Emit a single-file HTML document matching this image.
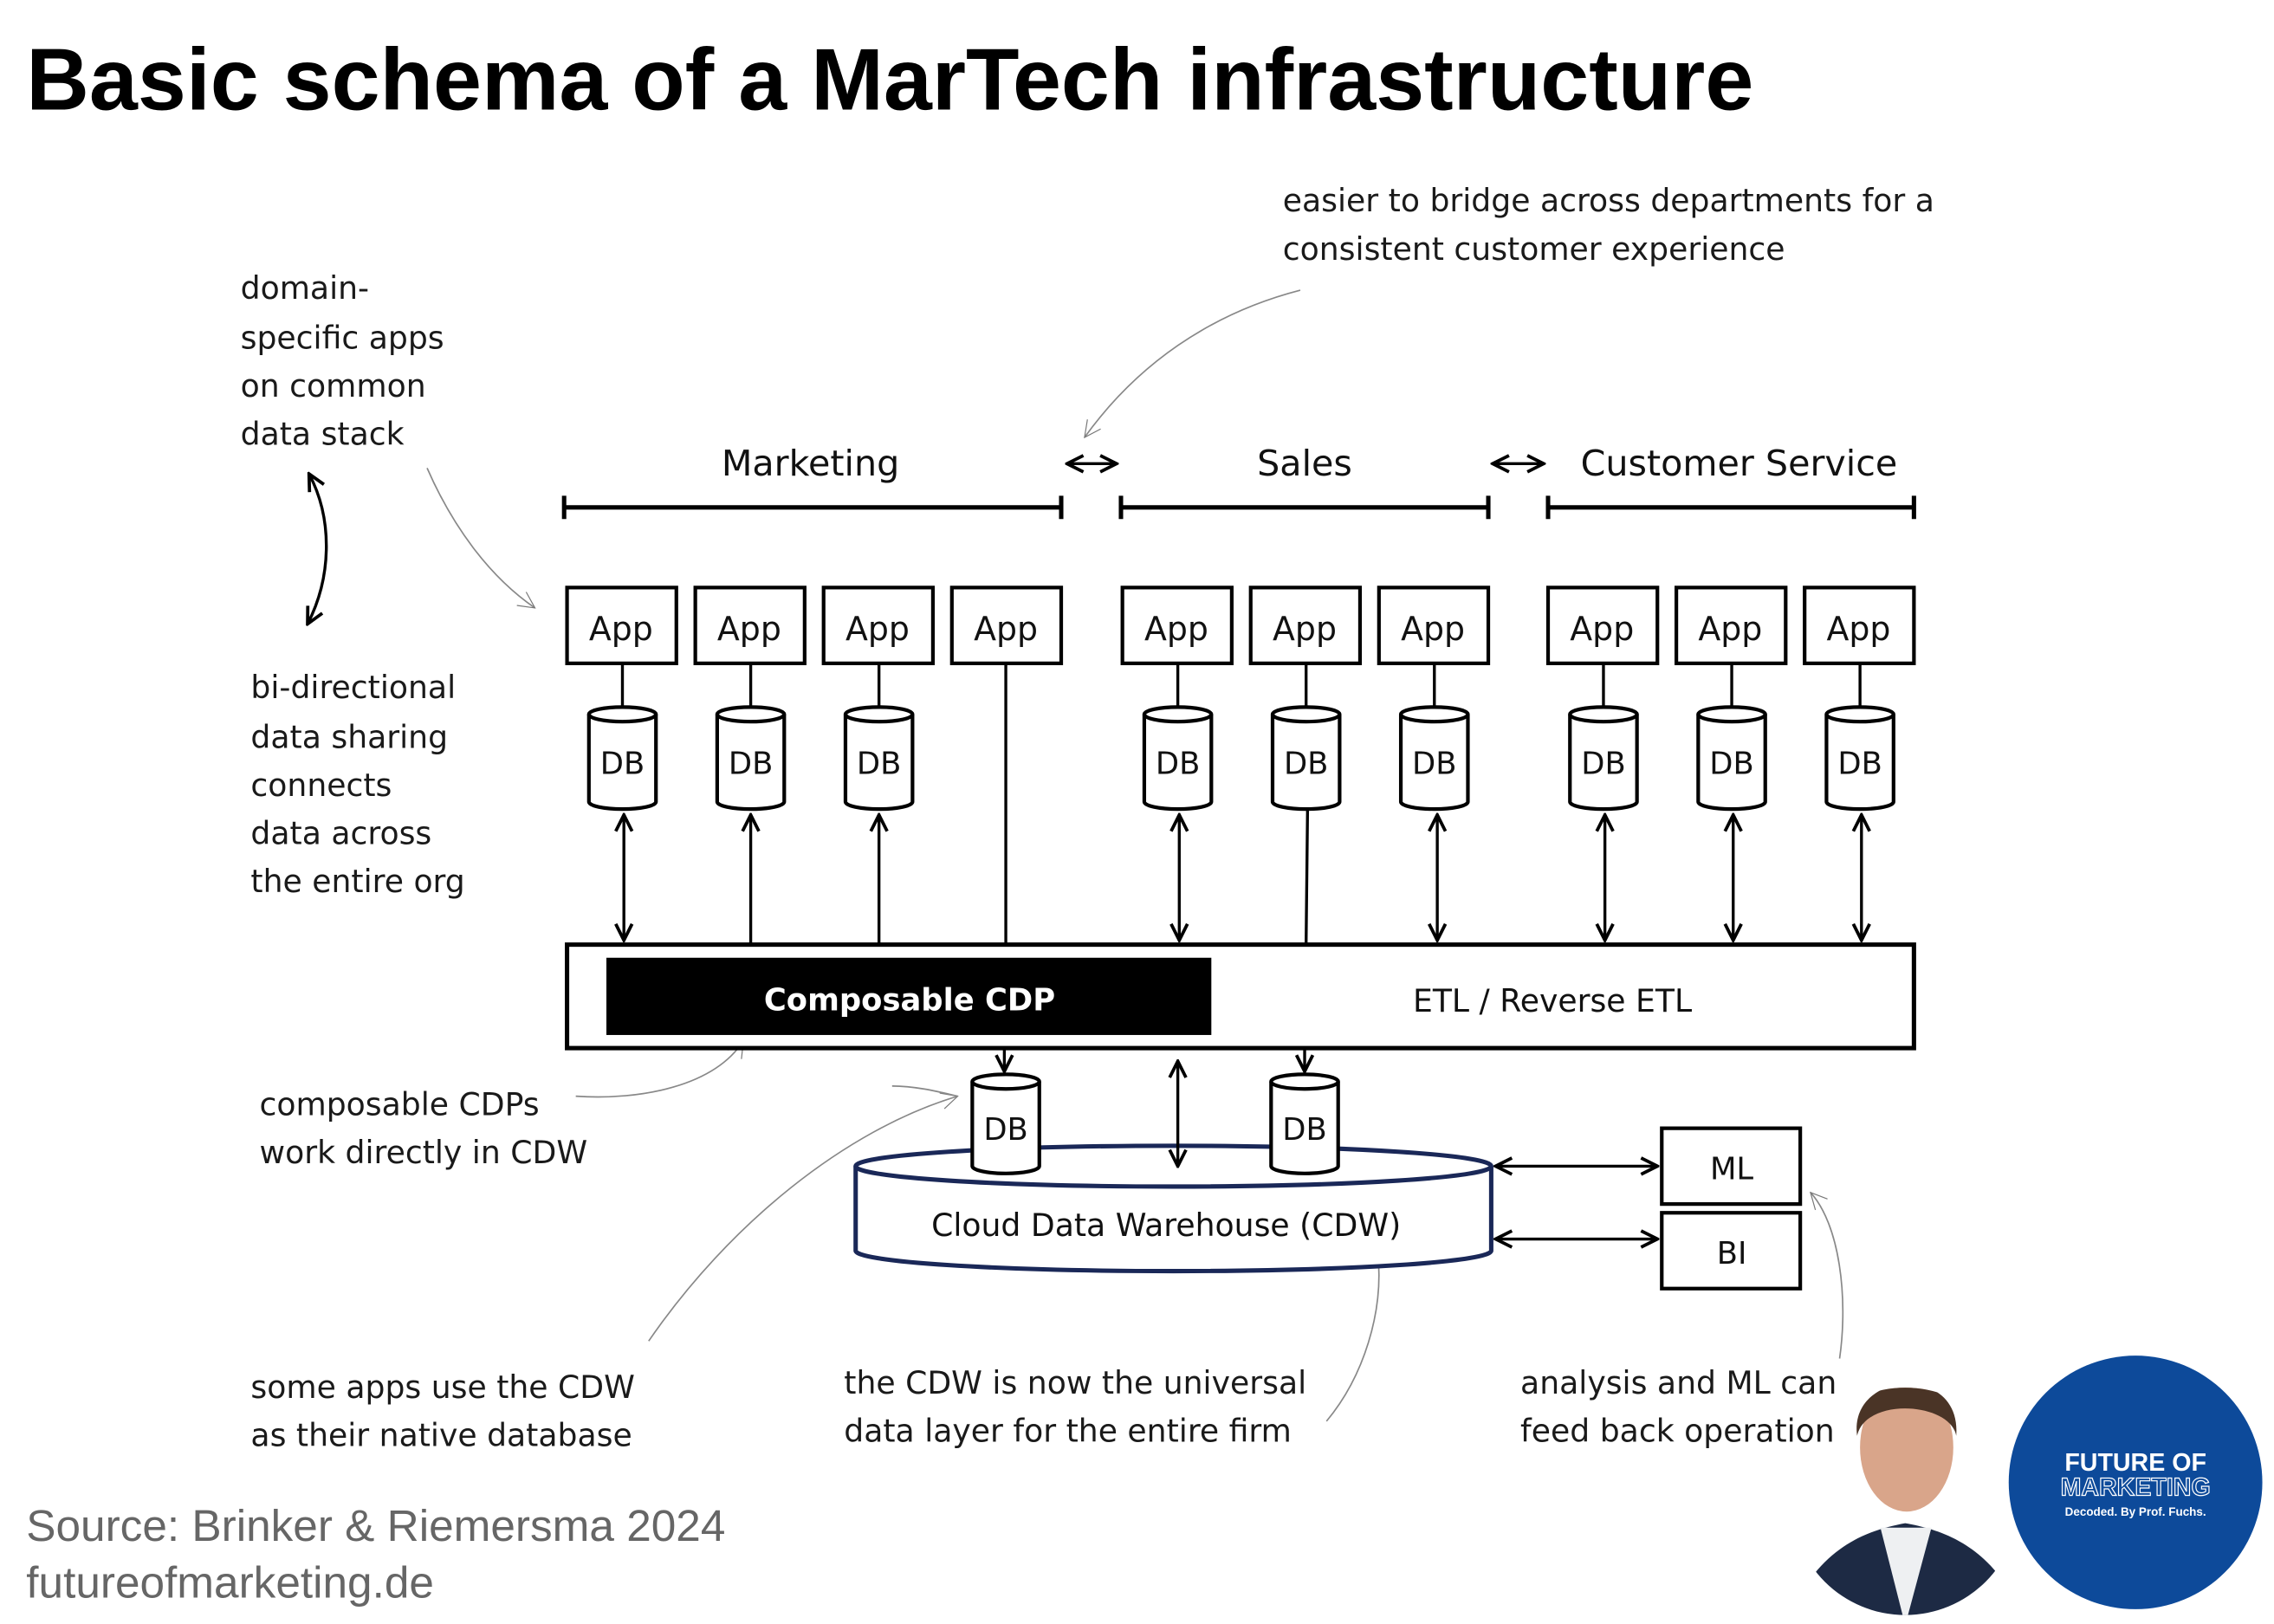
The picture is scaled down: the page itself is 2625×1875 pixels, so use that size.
<!DOCTYPE html>
<html><head><meta charset="utf-8"><style>html,body{margin:0;padding:0;background:#fff}svg{display:block}</style></head>
<body>
<svg width="2625" height="1875" viewBox="0 0 1560 1114" xmlns="http://www.w3.org/2000/svg">
<defs>
<marker id="ah" viewBox="0 0 10 10" refX="9" refY="5" markerWidth="7" markerHeight="7" orient="auto-start-reverse"><path d="M1,1 L9,5 L1,9" fill="none" stroke="#000" stroke-width="1.6"/></marker>
<marker id="gh" viewBox="0 0 10 10" refX="9" refY="5" markerWidth="14" markerHeight="14" orient="auto"><path d="M1,1 L9,5 L1,9" fill="none" stroke="#777" stroke-width="0.5"/></marker>
</defs>
<rect width="1560" height="1114" fill="#fff"/>
<text x="18" y="75" font-family="Liberation Sans, sans-serif" font-weight="bold" font-size="60" textLength="1185" lengthAdjust="spacingAndGlyphs">Basic schema of a MarTech infrastructure</text>

<g font-family="DejaVu Sans, sans-serif" font-size="21.5" fill="#1a1a1a">
<text x="880" y="145">easier to bridge across departments for a</text>
<text x="880" y="178">consistent customer experience</text>
<text x="165" y="205">domain-</text><text x="165" y="239">specific apps</text><text x="165" y="272">on common</text><text x="165" y="305">data stack</text>
<text x="172" y="479">bi-directional</text><text x="172" y="513">data sharing</text><text x="172" y="546">connects</text><text x="172" y="579">data across</text><text x="172" y="612">the entire org</text>
<text x="178" y="765">composable CDPs</text><text x="178" y="798">work directly in CDW</text>
<text x="172" y="959">some apps use the CDW</text><text x="172" y="992">as their native database</text>
<text x="579" y="956">the CDW is now the universal</text><text x="579" y="989">data layer for the entire firm</text>
<text x="1043" y="956">analysis and ML can</text><text x="1043" y="989">feed back operation</text>
</g>
<g font-family="Liberation Sans, sans-serif" font-size="30.5" fill="#666">
<text x="18" y="1057">Source: Brinker &amp; Riemersma 2024</text>
<text x="18" y="1096">futureofmarketing.de</text>
</g>

<g fill="none" stroke="#888" stroke-width="1">
<path d="M892,199 C830,215 780,250 744,300" marker-end="url(#gh)"/>
<path d="M293,321 C310,360 335,395 367,417" marker-end="url(#gh)"/>
<path d="M395,752 C440,755 490,745 510,714" marker-end="url(#gh)"/>
<path d="M445,920 C500,840 580,775 657,752" marker-end="url(#gh)"/>
<path d="M612,745 C630,745 648,750 657,752"/>
<path d="M910,975 C935,945 950,900 945,858" marker-end="url(#gh)"/>
<path d="M1262,932 C1268,890 1262,840 1242,818" marker-end="url(#gh)"/>
</g>
<path d="M212,325 C228,355 228,395 211,428" fill="none" stroke="#000" stroke-width="2" marker-start="url(#ah)" marker-end="url(#ah)"/>

<g font-family="DejaVu Sans, sans-serif" font-size="24.5" fill="#111" text-anchor="middle">
<text x="556" y="326">Marketing</text><text x="895" y="326">Sales</text><text x="1193" y="326">Customer Service</text>
</g>
<g stroke="#000" stroke-width="3" fill="none">
<path d="M387,348H728M387,340V356M728,340V356"/>
<path d="M769,348H1021M769,340V356M1021,340V356"/>
<path d="M1062,348H1313M1062,340V356M1313,340V356"/>
</g>
<g stroke="#000" stroke-width="2" fill="none">
<path d="M732,318H766" marker-start="url(#ah)" marker-end="url(#ah)"/>
<path d="M1024,318H1059" marker-start="url(#ah)" marker-end="url(#ah)"/>
</g>

<g fill="#fff" stroke="#000" stroke-width="2.5">
<rect x="389" y="403" width="75" height="52"/><rect x="477" y="403" width="75" height="52"/><rect x="565" y="403" width="75" height="52"/><rect x="653" y="403" width="75" height="52"/>
<rect x="770" y="403" width="75" height="52"/><rect x="858" y="403" width="75" height="52"/><rect x="946" y="403" width="75" height="52"/>
<rect x="1062" y="403" width="75" height="52"/><rect x="1150" y="403" width="75" height="52"/><rect x="1238" y="403" width="75" height="52"/>
</g>
<g font-family="DejaVu Sans, sans-serif" font-size="22.5" text-anchor="middle" fill="#111">
<text x="426" y="439">App</text><text x="514" y="439">App</text><text x="602" y="439">App</text><text x="690" y="439">App</text>
<text x="807" y="439">App</text><text x="895" y="439">App</text><text x="983" y="439">App</text>
<text x="1099" y="439">App</text><text x="1187" y="439">App</text><text x="1275" y="439">App</text>
</g>
<g stroke="#000" stroke-width="2">
<path d="M427,455V487M515,455V487M603,455V487M808,455V487M896,455V487M984,455V487M1100,455V487M1188,455V487M1276,455V487"/>
<path d="M690,455V648M897,555L896,648"/>
</g>
<g fill="#fff" stroke="#000" stroke-width="2.5">
<g transform="translate(427,0)"><path d="M-23,490V550A23,5 0 0 0 23,550V490"/><ellipse cx="0" cy="490" rx="23" ry="5"/></g>
<g transform="translate(515,0)"><path d="M-23,490V550A23,5 0 0 0 23,550V490"/><ellipse cx="0" cy="490" rx="23" ry="5"/></g>
<g transform="translate(603,0)"><path d="M-23,490V550A23,5 0 0 0 23,550V490"/><ellipse cx="0" cy="490" rx="23" ry="5"/></g>
<g transform="translate(808,0)"><path d="M-23,490V550A23,5 0 0 0 23,550V490"/><ellipse cx="0" cy="490" rx="23" ry="5"/></g>
<g transform="translate(896,0)"><path d="M-23,490V550A23,5 0 0 0 23,550V490"/><ellipse cx="0" cy="490" rx="23" ry="5"/></g>
<g transform="translate(984,0)"><path d="M-23,490V550A23,5 0 0 0 23,550V490"/><ellipse cx="0" cy="490" rx="23" ry="5"/></g>
<g transform="translate(1100,0)"><path d="M-23,490V550A23,5 0 0 0 23,550V490"/><ellipse cx="0" cy="490" rx="23" ry="5"/></g>
<g transform="translate(1188,0)"><path d="M-23,490V550A23,5 0 0 0 23,550V490"/><ellipse cx="0" cy="490" rx="23" ry="5"/></g>
<g transform="translate(1276,0)"><path d="M-23,490V550A23,5 0 0 0 23,550V490"/><ellipse cx="0" cy="490" rx="23" ry="5"/></g>
</g>
<g font-family="DejaVu Sans, sans-serif" font-size="21" text-anchor="middle" fill="#111">
<text x="427" y="531">DB</text><text x="515" y="531">DB</text><text x="603" y="531">DB</text><text x="808" y="531">DB</text><text x="896" y="531">DB</text><text x="984" y="531">DB</text><text x="1100" y="531">DB</text><text x="1188" y="531">DB</text><text x="1276" y="531">DB</text>
</g>
<g stroke="#000" stroke-width="2" fill="none">
<path d="M428,559V645" marker-start="url(#ah)" marker-end="url(#ah)"/>
<path d="M515,559V648" marker-start="url(#ah)"/>
<path d="M603,559V648" marker-start="url(#ah)"/>
<path d="M809,559V645" marker-start="url(#ah)" marker-end="url(#ah)"/>
<path d="M986,559V645" marker-start="url(#ah)" marker-end="url(#ah)"/>
<path d="M1101,559V645" marker-start="url(#ah)" marker-end="url(#ah)"/>
<path d="M1189,559V645" marker-start="url(#ah)" marker-end="url(#ah)"/>
<path d="M1277,559V645" marker-start="url(#ah)" marker-end="url(#ah)"/>
</g>
<rect x="389" y="648" width="924" height="71" fill="#fff" stroke="#000" stroke-width="3"/>
<rect x="416" y="657" width="415" height="53" fill="#000"/>
<text x="624" y="693" font-family="DejaVu Sans, sans-serif" font-weight="bold" font-size="21" fill="#fff" text-anchor="middle">Composable CDP</text>
<text x="1065" y="694" font-family="DejaVu Sans, sans-serif" font-size="21.5" fill="#111" text-anchor="middle">ETL / Reverse ETL</text>

<path d="M587,800V858A218,14 0 0 0 1023,858V800" fill="#fff" stroke="#1a2858" stroke-width="3"/>
<ellipse cx="805" cy="800" rx="218" ry="14" fill="#fff" stroke="#1a2858" stroke-width="3"/>
<text x="800" y="848" font-family="DejaVu Sans, sans-serif" font-size="21.5" fill="#111" text-anchor="middle">Cloud Data Warehouse (CDW)</text>
<g stroke="#000" stroke-width="2" fill="none">
<path d="M689,719V735" marker-end="url(#ah)"/>
<path d="M895,719V735" marker-end="url(#ah)"/>
<path d="M808,728V800" marker-start="url(#ah)" marker-end="url(#ah)"/>
<path d="M1026,800H1137" marker-start="url(#ah)" marker-end="url(#ah)"/>
<path d="M1026,850H1137" marker-start="url(#ah)" marker-end="url(#ah)"/>
</g>
<g fill="#fff" stroke="#000" stroke-width="2.5">
<g transform="translate(690,0)"><path d="M-23,742V800A23,5 0 0 0 23,800V742"/><ellipse cx="0" cy="742" rx="23" ry="5"/></g>
<g transform="translate(895,0)"><path d="M-23,742V800A23,5 0 0 0 23,800V742"/><ellipse cx="0" cy="742" rx="23" ry="5"/></g>
<rect x="1140" y="774" width="95" height="52"/><rect x="1140" y="832" width="95" height="52"/>
</g>
<g font-family="DejaVu Sans, sans-serif" font-size="21" text-anchor="middle" fill="#111">
<text x="690" y="782">DB</text><text x="895" y="782">DB</text>
<text x="1188" y="809">ML</text><text x="1188" y="867">BI</text>
</g>

<clipPath id="pc"><circle cx="1307" cy="1030" r="78"/></clipPath>
<g clip-path="url(#pc)">
<path d="M1225,1115 C1245,1062 1280,1050 1307,1045 C1335,1050 1370,1062 1390,1115Z" fill="#1d2a44"/>
<path d="M1290,1048 L1307,1115 L1325,1048Z" fill="#eef0f2"/>
<ellipse cx="1308" cy="993" rx="32" ry="44" fill="#d9a58a"/>
<path d="M1274,985 C1268,940 1346,935 1342,985 C1338,962 1280,958 1274,985Z" fill="#4a3426"/>
</g>
<circle cx="1465" cy="1017" r="87" fill="#0d4a9a"/>
<g font-family="Liberation Sans, sans-serif" font-weight="bold" text-anchor="middle" fill="#fff">
<text x="1465" y="1009" font-size="17">FUTURE OF</text>
<text x="1465" y="1026" font-size="17" fill="none" stroke="#fff" stroke-width="0.7">MARKETING</text>
<text x="1465" y="1040" font-size="8">Decoded. By Prof. Fuchs.</text>
</g>
</svg>
</body></html>
